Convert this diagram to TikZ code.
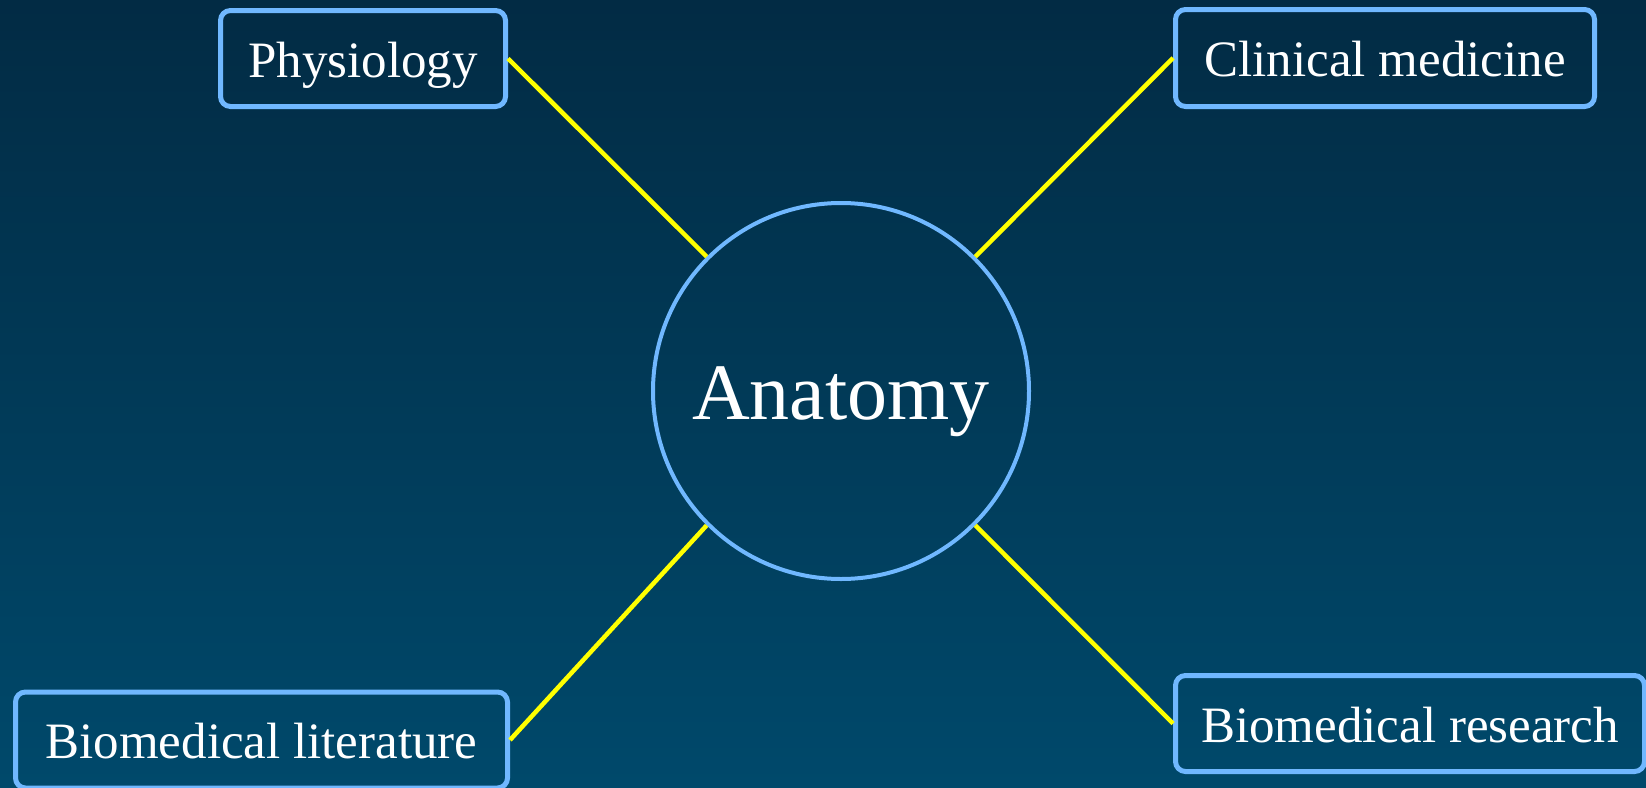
\documentclass[tikz,border=0pt]{standalone}
\usepackage{fontspec}
\setmainfont{Liberation Serif}
\definecolor{bgtop}{RGB}{2,43,68}
\definecolor{bgbottom}{RGB}{0,73,107}
\definecolor{edgeblue}{RGB}{112,184,255}
\definecolor{linkyellow}{RGB}{255,255,0}
\tikzset{
  topic/.style={draw=edgeblue, line width=5pt, rounded corners=10pt,
    rectangle, inner sep=0pt, text=white, align=center,
    text height=37pt, text depth=0pt,
    font=\fontsize{51}{60}\selectfont},
  hub/.style={draw=edgeblue, line width=4pt, circle, inner sep=0pt,
    minimum size=376pt, text=white, text height=56pt, text depth=0pt,
    font=\fontsize{80}{90}\selectfont},
  link/.style={draw=linkyellow, line width=4.5pt}
}
\begin{document}
\begin{tikzpicture}[x=1pt,y=-1pt]
  % background
  \shade[top color=bgtop, bottom color=bgbottom] (0,0) rectangle (1646,787);
  \useasboundingbox (0,0) rectangle (1646,787);

  % central topic
  \node[hub] (anat) at (841,391) {Anatomy};

  % related fields
  \node[topic, minimum width=285pt, minimum height=96pt] (phys) at (363,58.5) {Physiology};
  \node[topic, minimum width=419pt, minimum height=97pt] (clin) at (1385,58) {Clinical medicine};
  \node[topic, minimum width=492pt, minimum height=96pt] (lit) at (261.5,740) {Biomedical literature};
  \node[topic, minimum width=469pt, minimum height=96pt] (res) at (1410,723.5) {Biomedical research};

  % connectors
  \draw[link] (anat.135) -- (phys.east);
  \draw[link] (anat.45) -- (clin.west);
  \draw[link] (anat.225) -- (lit.east);
  \draw[link] (anat.315) -- (res.west);
\end{tikzpicture}
\end{document}
